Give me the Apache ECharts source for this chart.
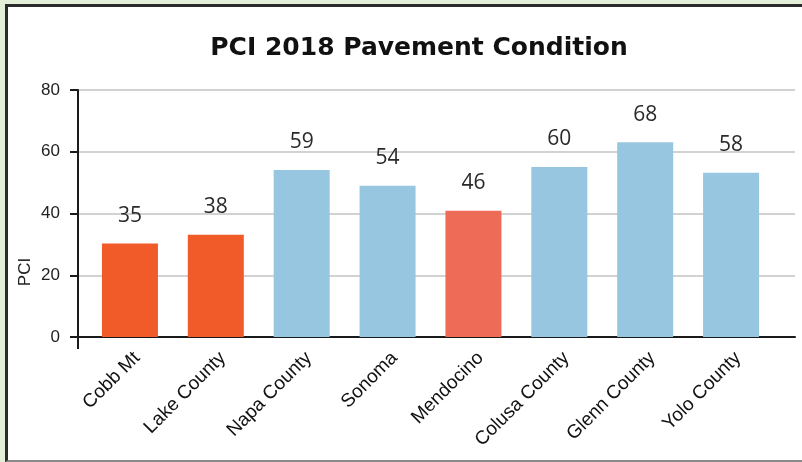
<!DOCTYPE html>
<html>
<head>
<meta charset="utf-8">
<script src="https://cdn.jsdelivr.net/npm/echarts@6/dist/echarts.min.js"></script>
<style>
  html, body { margin: 0; padding: 0; background: #e3efd9; width: 802px; height: 462px; overflow: hidden; }
  #frame { position: absolute; left: 5px; top: 4px; width: 830px; height: 453px; background: #ffffff;
           border-left: 3px solid #2b2b2b; border-top: 3px solid #2b2b2b; border-bottom: 2px solid #8a8a8a; }
  #chart { position: absolute; left: 0; top: 0; width: 802px; height: 462px; }
</style>
</head>
<body>
<div id="frame"></div>
<div id="chart"></div>
<script>
// ---- data ----
const categories = ['Cobb Mt', 'Lake County', 'Napa County', 'Sonoma', 'Mendocino', 'Colusa County', 'Glenn County', 'Yolo County'];
const barValues = [30.3, 33.1, 54.1, 49.0, 40.9, 55.1, 63.1, 53.2];   // drawn bar heights
const labelValues = [35, 38, 59, 54, 46, 60, 68, 58];               // printed PCI values
const yTicks = [0, 20, 40, 60, 80];
const titleText = 'PCI 2018 Pavement Condition';
const yName = 'PCI';

// ---- styles ----
const barColorsByIndex = ['#f15a29', '#f15a29', '#97c6e0', '#97c6e0', '#ee6b58', '#97c6e0', '#97c6e0', '#97c6e0'];

const chart = echarts.init(document.getElementById('chart'), null, { renderer: 'canvas' });

const yMin = yTicks[0], yMax = yTicks[yTicks.length - 1], yStep = yTicks[1] - yTicks[0];

const option = {
  backgroundColor: 'transparent',
  animation: false,
  title: {
    text: titleText,
    left: 414,
    top: 31,
    textAlign: 'center',
    textStyle: { fontFamily: 'DejaVu Sans', fontWeight: 'bold', fontSize: 25, color: '#111' }
  },
  grid: [
    { left: 78, right: 7, top: 90, bottom: 125 },   // frame: gridlines + axis lines
    { left: 87, right: 28, top: 90, bottom: 125 },  // bars
    { left: 94, right: 21, top: 90, bottom: 125 }   // category labels
  ],
  xAxis: [
    { gridIndex: 0, type: 'value', min: 0, max: 1,
      axisLine: { show: true, lineStyle: { color: '#1a1a1a', width: 2 } },
      axisTick: { show: false }, axisLabel: { show: false }, splitLine: { show: false } },
    { gridIndex: 1, type: 'category', data: categories,
      axisLine: { show: false }, axisTick: { show: false }, axisLabel: { show: false } },
    { gridIndex: 2, type: 'category', data: categories,
      axisLine: { show: false }, axisTick: { show: false },
      axisLabel: { rotate: 45, margin: 18, fontFamily: 'Liberation Sans', fontSize: 19, color: '#111', interval: 0 } }
  ],
  yAxis: [
    { gridIndex: 0, type: 'value', min: yMin, max: yMax, interval: yStep,
      axisLine: { show: true, lineStyle: { color: '#1a1a1a', width: 2 } },
      axisTick: { show: true, length: 8, lineStyle: { color: '#1a1a1a', width: 2 } },
      axisLabel: { margin: 18, fontFamily: 'Liberation Sans', fontSize: 17, color: '#222' },
      splitLine: { show: true, lineStyle: { color: '#d2d2d2', width: 2 } } },
    { gridIndex: 1, type: 'value', min: yMin, max: yMax, interval: yStep, show: false },
    { gridIndex: 2, type: 'value', min: yMin, max: yMax, interval: yStep, show: false }
  ],
  series: [
    {
      type: 'bar',
      xAxisIndex: 1, yAxisIndex: 1,
      barWidth: 56,
      data: barValues.map((v, i) => ({ value: v, itemStyle: { color: barColorsByIndex[i] } })),
      label: {
        show: true, position: 'top', distance: 17,
        fontFamily: 'Open Sans', fontSize: 21, color: '#2a2a2a',
        formatter: (p) => String(labelValues[p.dataIndex])
      }
    }
  ]
};
chart.setOption(option);

// decorations: y-axis line extension below zero, rotated axis name
const p0 = chart.convertToPixel({ gridIndex: 0 }, [0, yMin]);
chart.setOption({
  graphic: [
    { type: 'line', shape: { x1: p0[0], y1: p0[1], x2: p0[0], y2: p0[1] + 12 },
      style: { stroke: '#1a1a1a', lineWidth: 2 } },
    { type: 'text', x: 25, y: 272, rotation: Math.PI / 2,
      style: { text: yName, fontFamily: 'Liberation Sans', fontSize: 17, fill: '#222', align: 'center', verticalAlign: 'middle' } }
  ]
});
</script>
</body>
</html>
